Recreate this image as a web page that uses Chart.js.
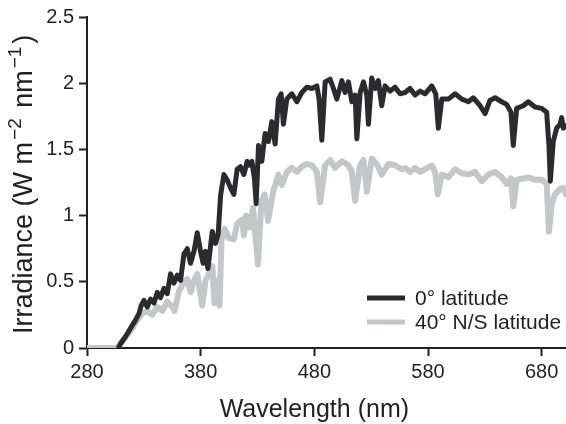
<!DOCTYPE html>
<html>
<head>
<meta charset="utf-8">
<script src="https://cdn.jsdelivr.net/npm/chart.js@4.4.1/dist/chart.umd.min.js"></script>
<style>
  html, body { margin: 0; padding: 0; background: #fff; }
  #wrap { width: 566px; height: 424px; }
</style>
</head>
<body>
<div id="wrap"><canvas id="spectrumChart" width="566" height="424"></canvas></div>
<script>
// 0° latitude (black)
const eqWavelength = [
  308, 309.4, 313.9, 318.3, 322.7, 325.7, 327.7, 330.1, 333.0, 335.9, 338.9, 341.8,
  344.7, 347.7, 350.6, 353.5, 356.5, 359.4, 362.3, 365.3, 368.2, 371.1, 374.1, 377.0,
  379.9, 382.2, 384.3, 386.4, 390.2, 393.1, 395.4, 397.5, 400.4, 403.3, 406.2, 409.2,
  412.1, 415.0, 418.0, 420.9, 422.1, 425.1, 427.3, 428.8, 430.9, 433.8, 436.7, 439.6,
  442.6, 445.5, 448.4, 450.8, 452.8, 455.8, 460.2, 464.6, 469.0, 473.4, 477.8, 482.2,
  484.2, 486.6, 489.5, 493.9, 496.8, 499.8, 504.2, 507.1, 510.0, 513.0, 515.9, 517.4,
  520.3, 523.2, 526.2, 527.6, 530.5, 533.5, 536.3, 539.3, 542.2, 546.6, 551.0, 555.4,
  559.8, 564.2, 568.6, 573.0, 577.4, 583.3, 586.8, 589.1, 592.1, 597.9, 603.8, 609.7,
  615.5, 619.9, 625.8, 630.2, 634.5, 639.0, 644.8, 649.2, 653.0, 655.0, 658.0, 663.8,
  668.2, 674.1, 680.0, 684.4, 686.4, 687.6, 690.2, 693.2, 696.1, 697.6, 699.0, 701.4
];
const eqIrradiance = [
  0.01, 0.03, 0.085, 0.15, 0.21, 0.26, 0.32, 0.36, 0.31, 0.37, 0.34, 0.42,
  0.38, 0.45, 0.41, 0.56, 0.49, 0.55, 0.51, 0.71, 0.75, 0.64, 0.73, 0.87,
  0.73, 0.64, 0.73, 0.60, 0.88, 0.79, 0.86, 1.15, 1.31, 1.27, 1.21, 1.16,
  1.35, 1.37, 1.31, 1.41, 1.38, 1.41, 1.28, 1.09, 1.53, 1.41, 1.62, 1.56,
  1.71, 1.54, 1.88, 1.92, 1.69, 1.88, 1.92, 1.86, 1.93, 1.97, 1.96, 1.98,
  1.88, 1.57, 2.01, 2.03, 1.96, 1.88, 2.02, 1.93, 2.01, 1.86, 1.91, 1.58,
  1.93, 2.01, 1.91, 1.69, 2.04, 1.96, 2.02, 1.83, 1.98, 1.94, 1.97, 1.92,
  1.93, 1.96, 1.91, 1.94, 1.92, 1.98, 1.92, 1.66, 1.88, 1.88, 1.92, 1.88,
  1.86, 1.89, 1.83, 1.77, 1.87, 1.89, 1.86, 1.84, 1.78, 1.53, 1.81, 1.83,
  1.86, 1.82, 1.81, 1.78, 1.53, 1.26, 1.56, 1.66, 1.69, 1.74, 1.66, 1.68
];

// 40° N/S latitude (grey)
const midWavelength = [
  280, 306.6, 312.5, 318.3, 324.2, 328.6, 333.0, 337.4, 341.8, 346.2, 350.6, 355.0,
  357.0, 360.9, 365.3, 368.2, 371.1, 374.1, 377.0, 381.4, 384.3, 387.3, 390.2, 392.2,
  394.6, 396.6, 398.3, 401.0, 404.8, 409.2, 412.1, 416.5, 418.0, 420.0, 423.1, 426.0,
  430.4, 433.4, 436.3, 439.3, 443.7, 448.4, 451.4, 455.8, 460.2, 464.6, 469.0, 473.4,
  477.8, 482.2, 485.1, 489.5, 493.9, 498.3, 504.2, 510.0, 513.0, 515.9, 520.3, 523.2,
  526.2, 530.5, 534.9, 539.3, 545.1, 551.0, 556.9, 559.8, 564.2, 568.6, 573.0, 577.4,
  583.3, 586.2, 588.6, 592.1, 597.9, 603.8, 609.7, 615.5, 621.4, 627.3, 633.1, 639.0,
  644.8, 649.2, 653.0, 655.0, 658.0, 663.8, 668.2, 674.1, 680.0, 684.4, 686.4, 688.8,
  691.7, 696.1, 699.0, 701.4
];
const midIrradiance = [
  0, 0, 0.07, 0.13, 0.21, 0.26, 0.28, 0.25, 0.31, 0.28, 0.35, 0.31,
  0.28, 0.43, 0.50, 0.52, 0.42, 0.51, 0.56, 0.32, 0.51, 0.56, 0.62, 0.34,
  0.51, 0.32, 0.81, 0.90, 0.83, 0.82, 0.94, 0.97, 0.85, 1.00, 0.91, 1.06,
  0.63, 1.11, 1.16, 0.96, 1.18, 1.31, 1.23, 1.33, 1.36, 1.33, 1.37, 1.39,
  1.38, 1.33, 1.10, 1.38, 1.42, 1.36, 1.41, 1.38, 1.33, 1.11, 1.38, 1.42,
  1.18, 1.43, 1.39, 1.31, 1.39, 1.38, 1.35, 1.36, 1.33, 1.36, 1.33, 1.35,
  1.38, 1.33, 1.16, 1.31, 1.29, 1.35, 1.32, 1.31, 1.33, 1.26, 1.31, 1.33,
  1.29, 1.24, 1.28, 1.07, 1.27, 1.28, 1.29, 1.27, 1.27, 1.24, 0.88, 1.08,
  1.16, 1.20, 1.21, 1.16
];

const seriesLabels = ['0° latitude', '40° N/S latitude'];
const seriesColors = ['#2b2a2e', '#c5c6c9'];
const xTickValues = [280, 380, 480, 580, 680];
const yTickValues = [0, 0.5, 1, 1.5, 2, 2.5];
const xTitle = 'Wavelength (nm)';
// y title pieces: [text, superscript?]
const yTitleParts = [['Irradiance (W m', false], ['\u22122', true], [' nm', false], ['\u22121', true], [')', false]];

const axisColor = '#231f20';
const fontFamily = '"Liberation Sans", Arial, Helvetica, sans-serif';

function toPoints(xs, ys) {
    return xs.map((x, i) => ({ x: x, y: ys[i] }));
}

// タイトルと凡例をプロット内に描く
const overlayPlugin = {
    id: 'overlay',
    afterDraw(chart) {
        const ctx = chart.ctx;
        const xs = chart.scales.x;
        ctx.save();
        ctx.fillStyle = axisColor;
        ctx.textAlign = 'center';
        ctx.textBaseline = 'middle';
        ctx.font = '25px ' + fontFamily;
        ctx.fillText(xTitle, xs.getPixelForValue(480), 410);

        // y title, written upward from the bottom
        ctx.save();
        ctx.translate(32, 334);
        ctx.rotate(-Math.PI / 2);
        ctx.textAlign = 'left';
        ctx.textBaseline = 'alphabetic';
        let pos = 0;
        yTitleParts.forEach(([txt, sup]) => {
            ctx.font = (sup ? '19px ' : '27px ') + fontFamily;
            if (sup) pos += 2;
            ctx.fillText(txt, pos, sup ? -11 : 0);
            pos += ctx.measureText(txt).width + (sup ? 3 : 0);
        });
        ctx.restore();

        // legend
        ctx.font = '21px ' + fontFamily;
        ctx.textAlign = 'left';
        ctx.textBaseline = 'middle';
        const rows = [298, 322];
        seriesLabels.forEach((label, i) => {
            ctx.strokeStyle = seriesColors[i];
            ctx.lineWidth = 5;
            ctx.beginPath();
            ctx.moveTo(367, rows[i]);
            ctx.lineTo(405, rows[i]);
            ctx.stroke();
            ctx.fillStyle = axisColor;
            ctx.fillText(label, 415, rows[i] + 1);
        });
        ctx.restore();
    }
};

function createSpectrumChart() {
    const ctx = document.getElementById('spectrumChart').getContext('2d');

    new Chart(ctx, {
        type: 'line',
        data: {
            datasets: [{
                label: seriesLabels[0],
                data: toPoints(eqWavelength, eqIrradiance),
                borderColor: seriesColors[0],
                borderWidth: 5,
                pointRadius: 0,
                tension: 0,
                borderJoinStyle: 'round',
                borderCapStyle: 'round'
            }, {
                label: seriesLabels[1],
                data: toPoints(midWavelength, midIrradiance),
                borderColor: seriesColors[1],
                borderWidth: 6,
                pointRadius: 0,
                tension: 0,
                borderJoinStyle: 'round',
                borderCapStyle: 'round'
            }]
        },
        options: {
            responsive: false,
            animation: false,
            layout: {
                padding: { left: 0, right: 0, top: 14, bottom: 0 }
            },
            plugins: {
                legend: { display: false },
                tooltip: { enabled: false }
            },
            scales: {
                x: {
                    type: 'linear',
                    min: 280,
                    max: 701.4,
                    afterBuildTicks: scale => {
                        scale.ticks = xTickValues.map(v => ({ value: v }));
                    },
                    afterFit: scale => { scale.height = 76; },
                    border: { display: true, color: axisColor, width: 2 },
                    grid: {
                        drawOnChartArea: false,
                        drawTicks: true,
                        tickLength: 8,
                        tickWidth: 2,
                        tickColor: axisColor
                    },
                    ticks: {
                        color: axisColor,
                        padding: 4,
                        maxRotation: 0,
                        font: { size: 20, family: fontFamily }
                    }
                },
                y: {
                    min: 0,
                    max: 2.5,
                    afterBuildTicks: scale => {
                        scale.ticks = yTickValues.map(v => ({ value: v }));
                    },
                    afterFit: scale => { scale.width = 87; },
                    border: { display: true, color: axisColor, width: 2 },
                    grid: {
                        drawOnChartArea: false,
                        drawTicks: true,
                        tickLength: 8,
                        tickWidth: 2,
                        tickColor: axisColor
                    },
                    ticks: {
                        color: axisColor,
                        padding: 5,
                        callback: value => String(value),
                        font: { size: 20, family: fontFamily }
                    }
                }
            }
        },
        plugins: [overlayPlugin]
    });
}

createSpectrumChart();
</script>
</body>
</html>
